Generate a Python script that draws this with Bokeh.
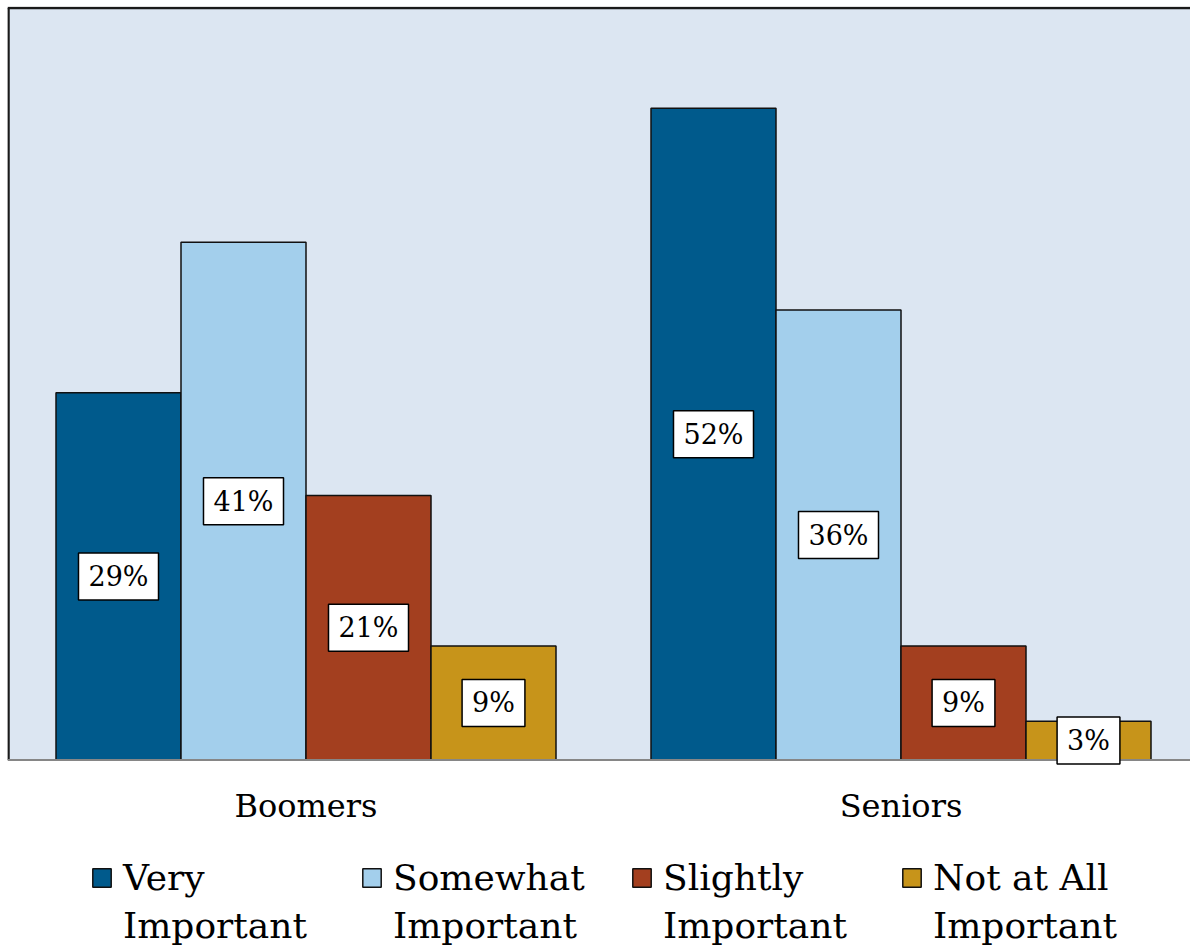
from bokeh.plotting import figure
from bokeh.models import Range1d, ColumnDataSource, Legend, LegendItem, Span, BoxAnnotation, Label
from bokeh.core.properties import value
from bokeh.embed import file_html
from bokeh.resources import INLINE

categories = ["Boomers", "Seniors"]
series_top = ["Very", "Somewhat", "Slightly", "Not at All"]
series_bottom = ["Important", "Important", "Important", "Important"]
very = [29.3, 52.0]
somewhat = [41.3, 35.9]
slightly = [21.1, 9.1]
not_at_all = [9.1, 3.1]
labels_very = ["29%", "52%"]
labels_somewhat = ["41%", "36%"]
labels_slightly = ["21%", "9%"]
labels_not = ["9%", "3%"]
colors = ["#005A8C", "#A3CFEC", "#A33F1F", "#C7941A"]
y_max = 60

FONT = "DejaVu Serif"
S = 752 / y_max          # px per percentage point
PX = 595.0               # px per category
FW, FH = 1183, 943
x_start = -1 / PX
x_end = x_start + FW / PX
y_end = y_max + 1.5 / S
y_start = y_end - FH / S

p = figure(frame_width=FW, frame_height=FH, output_backend="svg", toolbar_location=None,
           x_range=Range1d(x_start, x_end), y_range=Range1d(y_start, y_end),
           min_border_left=7, min_border_right=0, min_border_top=6, min_border_bottom=0)
p.background_fill_color = "white"
p.border_fill_color = "white"
p.outline_line_color = None
p.xgrid.visible = False
p.ygrid.visible = False
p.xaxis.visible = False
p.yaxis.visible = False

# plot area background
p.add_layout(BoxAnnotation(bottom=0, top=y_max, left=0, right=x_end + 1,
                           fill_color="#DCE6F2", fill_alpha=1, line_alpha=0,
                           level="underlay"))
# left border (degenerate box = vertical line) and top border
p.add_layout(BoxAnnotation(bottom=0, top=y_max, left=0, right=0, fill_alpha=0,
                           line_color="#1a1a1a", line_alpha=1, line_width=2.5))
p.add_layout(Span(location=y_max, dimension="width", line_color="#1a1a1a", line_width=2.5))
# category axis line
p.add_layout(Span(location=0, dimension="width", line_color="#868686", line_width=2))

bw = 125 / PX
values = [very, somewhat, slightly, not_at_all]
labs = [labels_very, labels_somewhat, labels_slightly, labels_not]
items_top = []
items_bottom = []
for j, (vals, lab) in enumerate(zip(values, labs)):
    xs = [i + 0.5 + (j - 1.5) * bw for i in range(len(categories))]
    src = ColumnDataSource(dict(x=xs, top=vals))
    r = p.vbar(x="x", top="top", width=bw, bottom=0, source=src,
               fill_color=colors[j], line_color="#111111", line_width=1.5)
    ghost = p.vbar(x=[], top=[], width=bw, fill_alpha=0, line_alpha=0)
    items_top.append(LegendItem(label=series_top[j], renderers=[r]))
    items_bottom.append(LegendItem(label=series_bottom[j], renderers=[ghost]))
    for xv, v, t in zip(xs, vals, lab):
        p.add_layout(Label(x=xv, y=v / 2, text=t, text_align="center",
                           text_baseline="middle", text_font=FONT, text_font_size="27px",
                           text_color="black", background_fill_color="white",
                           border_line_color="black", border_line_width=1.5,
                           padding=(10, 8)))

cat_src = ColumnDataSource(dict(x=[i + 0.5 for i in range(len(categories))], y=[0] * len(categories),
                                t=categories))
p.text(x="x", y="y", text="t", source=cat_src, y_offset=46, text_align="center",
       text_baseline="middle", text_font=value(FONT), text_font_size="32px", text_color="black")

common = dict(orientation="horizontal", glyph_width=23, glyph_height=23, label_standoff=10,
              label_width=227, spacing=10, padding=3, margin=0,
              label_text_font=FONT, label_text_font_size="36px",
              label_text_color="black", border_line_color=None,
              background_fill_alpha=0)
leg1 = Legend(items=items_top, location=(83, 51), **common)
leg2 = Legend(items=items_bottom, location=(83, 3), **common)
p.add_layout(leg1)
p.add_layout(leg2)

open("out.html", "w").write(file_html(p, INLINE))
